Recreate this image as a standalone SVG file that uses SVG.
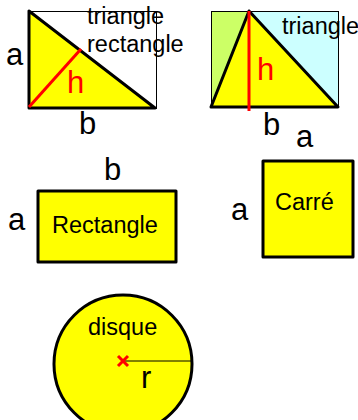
<svg xmlns="http://www.w3.org/2000/svg" width="358" height="420" viewBox="0 0 358 420">
<style>
text{font-family:"Liberation Sans",Arial,sans-serif;fill:#000}
.big{font-size:31px}
.lbl{font-size:23.5px}
.red{fill:#ff0000}
.shape{fill:#ffff00;stroke:#000;stroke-width:3;stroke-linejoin:round}
.thin{fill:none;stroke:#000;stroke-width:1}
.rl{stroke:#ff0000;stroke-width:3;fill:none}
</style>
<rect width="358" height="420" fill="#fff"/>
<g id="triangle-rectangle">
  <rect class="thin" x="29.5" y="11.5" width="127" height="97"/>
  <polygon class="shape" points="29,11 29,108 155,108"/>
  <line class="rl" x1="29" y1="107" x2="81" y2="49"/>
  <text class="big red" x="67" y="93">h</text>
  <text class="lbl" x="87" y="24">triangle</text>
  <text class="lbl" x="87" y="52">rectangle</text>
  <text class="big" x="6" y="65">a</text>
  <text class="big" x="79" y="134">b</text>
</g>
<g id="triangle">
  <rect x="211" y="11" width="38" height="96" fill="#ccff66"/>
  <rect x="249" y="11" width="89" height="96" fill="#ccffff"/>
  <rect class="thin" x="211.5" y="11.5" width="127" height="96"/>
  <polygon class="shape" points="211,107 249,11 338,107"/>
  <line class="rl" x1="249" y1="11" x2="249" y2="111"/>
  <text class="big red" x="257" y="80">h</text>
  <text class="lbl" x="282" y="34">triangle</text>
  <text class="big" x="263" y="135">b</text>
  <text class="big" x="296" y="147">a</text>
</g>
<g id="rectangle">
  <rect class="shape" x="38" y="191" width="138" height="71"/>
  <text class="lbl" x="52" y="233">Rectangle</text>
  <text class="big" x="104" y="180">b</text>
  <text class="big" x="8" y="230">a</text>
</g>
<g id="carre">
  <rect class="shape" x="263" y="161" width="90" height="96"/>
  <text class="lbl" x="275" y="210">Carré</text>
  <text class="big" x="231" y="220">a</text>
</g>
<g id="disque">
  <circle class="shape" cx="123" cy="364" r="69"/>
  <line x1="123" y1="361" x2="192" y2="361" stroke="#000" stroke-width="1"/>
  <path class="rl" d="M118,356 L128,366 M128,356 L118,366"/>
  <text class="lbl" x="88" y="335">disque</text>
  <text class="big" x="141" y="388">r</text>
</g>
</svg>
